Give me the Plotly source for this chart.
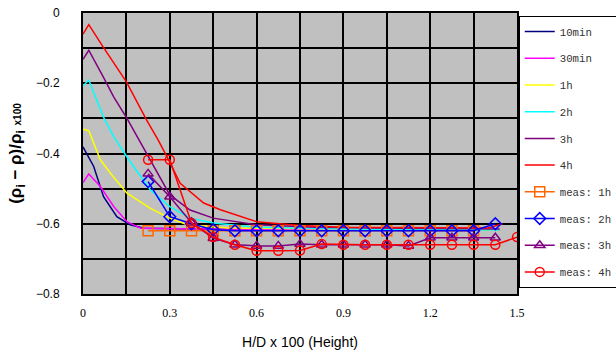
import plotly.graph_objects as go

# ---- model curves ----
x_10min = [0, 0.037, 0.071, 0.117, 0.163, 0.21, 0.4, 0.8, 1.2, 1.44]
y_10min = [-0.381, -0.437, -0.523, -0.58, -0.603, -0.613, -0.615, -0.616, -0.617, -0.618]

x_30min = [0, 0.02, 0.06, 0.106, 0.152, 0.2, 0.4, 0.8, 1.2, 1.44]
y_30min = [-0.483, -0.458, -0.494, -0.551, -0.594, -0.613, -0.615, -0.616, -0.617, -0.618]

x_1h = [0, 0.02, 0.06, 0.095, 0.152, 0.233, 0.30, 0.36, 0.5, 0.8, 1.2, 1.44]
y_1h = [-0.331, -0.335, -0.418, -0.456, -0.513, -0.556, -0.584, -0.603, -0.612, -0.615, -0.617, -0.618]

x_2h = [0, 0.02, 0.07, 0.106, 0.16, 0.233, 0.30, 0.37, 0.45, 0.6, 0.9, 1.2, 1.44]
y_2h = [-0.208, -0.191, -0.295, -0.352, -0.42, -0.504, -0.551, -0.584, -0.598, -0.61, -0.615, -0.617, -0.618]

x_3h = [0, 0.02, 0.07, 0.106, 0.152, 0.221, 0.30, 0.37, 0.45, 0.6, 0.8, 1.0, 1.2, 1.44]
y_3h = [-0.132, -0.106, -0.182, -0.239, -0.30, -0.40, -0.518, -0.561, -0.584, -0.603, -0.61, -0.612, -0.614, -0.615]

x_4h = [0, 0.02, 0.07, 0.15, 0.22, 0.26, 0.29, 0.336, 0.417, 0.475, 0.6, 0.75, 0.9, 1.2, 1.4, 1.45]
y_4h = [-0.06, -0.033, -0.097, -0.196, -0.305, -0.362, -0.409, -0.485, -0.541, -0.56, -0.594, -0.605, -0.61, -0.612, -0.612, -0.6]

# ---- measurements ----
xm_1h = [0.225, 0.3, 0.375, 0.45, 0.525, 0.6, 0.675, 0.75, 0.825, 0.9, 0.975, 1.05, 1.125, 1.2, 1.275, 1.35]
ym_1h = [-0.62, -0.62, -0.62, -0.62, -0.62, -0.62, -0.62, -0.62, -0.62, -0.62, -0.62, -0.62, -0.62, -0.62, -0.62, -0.62]

xm_2h = [0.225, 0.3, 0.375, 0.45, 0.525, 0.6, 0.675, 0.75, 0.825, 0.9, 0.975, 1.05, 1.125, 1.2, 1.275, 1.35, 1.425]
ym_2h = [-0.48, -0.58, -0.60, -0.617, -0.62, -0.62, -0.62, -0.62, -0.62, -0.62, -0.62, -0.62, -0.62, -0.62, -0.62, -0.62, -0.60]

xm_3h = [0.225, 0.3, 0.375, 0.45, 0.525, 0.6, 0.675, 0.75, 0.825, 0.9, 0.975, 1.05, 1.125, 1.2, 1.275, 1.35, 1.425]
ym_3h = [-0.458, -0.523, -0.597, -0.641, -0.66, -0.663, -0.663, -0.658, -0.66, -0.66, -0.66, -0.66, -0.663, -0.64, -0.64, -0.64, -0.64]

xm_4h = [0.225, 0.3, 0.375, 0.45, 0.525, 0.6, 0.675, 0.75, 0.825, 0.9, 0.975, 1.05, 1.125, 1.2, 1.275, 1.35, 1.425, 1.5]
ym_4h = [-0.418, -0.418, -0.598, -0.638, -0.66, -0.677, -0.677, -0.676, -0.658, -0.66, -0.66, -0.66, -0.66, -0.66, -0.66, -0.66, -0.66, -0.638]

fig = go.Figure()

models = [
    ("10min", x_10min, y_10min, "#000080"),
    ("30min", x_30min, y_30min, "#FF00FF"),
    ("1h", x_1h, y_1h, "#FFFF00"),
    ("2h", x_2h, y_2h, "#00FFFF"),
    ("3h", x_3h, y_3h, "#800080"),
    ("4h", x_4h, y_4h, "#FF0000"),
]
for i, (name, xs, ys, c) in enumerate(models):
    fig.add_trace(go.Scatter(x=xs, y=ys, mode="lines", name=name,
                             line=dict(color=c, width=1.5), legendgroup="g%d" % i))

meas = [
    ("meas: 1h", xm_1h, ym_1h, "#FF6600", "square-open", 10),
    ("meas: 2h", xm_2h, ym_2h, "#0000FF", "diamond-open", 9),
    ("meas: 3h", xm_3h, ym_3h, "#800080", "triangle-up-open", 9),
    ("meas: 4h", xm_4h, ym_4h, "#FF0000", "circle-open", 9),
]
for i, (name, xs, ys, c, sym, sz) in enumerate(meas):
    fig.add_trace(go.Scatter(x=xs, y=ys, mode="lines+markers", name=name,
                             line=dict(color=c, width=1.5),
                             marker=dict(symbol=sym, size=sz, color=c, line=dict(width=1.5, color=c)),
                             legendgroup="m%d" % i))

fig.update_layout(
    width=616, height=353,
    margin=dict(l=83, r=99, t=13, b=59, autoexpand=False),
    paper_bgcolor="white",
    plot_bgcolor="#C0C0C0",
    showlegend=True,
    legend=dict(x=1.004, y=0.989, xanchor="left", yanchor="top",
                bgcolor="white", bordercolor="black", borderwidth=1,
                font=dict(family="Liberation Mono", size=10.7, color="#333"),
                tracegroupgap=7.7, itemwidth=30),
    xaxis=dict(range=[0, 1.5], dtick=0.3, tick0=0, showgrid=True, gridcolor="black", gridwidth=1.5,
               minor=dict(dtick=0.15, showgrid=True, gridcolor="black", gridwidth=1.5),
               showline=True, linecolor="black", linewidth=2, mirror=True, zeroline=False,
               tickfont=dict(family="Liberation Serif", size=12, color="black"),
               ticklabelstandoff=7, ticks="", automargin=False,
               title=dict(text="H/D x 100 (Height)", font=dict(family="Liberation Sans", size=14, color="black"),
                          standoff=18)),
    yaxis=dict(range=[-0.8, 0], dtick=0.2, tick0=0, showgrid=True, gridcolor="black", gridwidth=1.5,
               minor=dict(dtick=0.1, showgrid=True, gridcolor="black", gridwidth=1.5),
               showline=True, linecolor="black", linewidth=2, mirror=True, zeroline=False,
               tickfont=dict(family="Liberation Sans", size=12, color="black"),
               ticklabelstandoff=19, ticks="", automargin=False,
               title=dict(text="<b>(ρ<sub>i</sub> − ρ)/ρ<sub>i</sub></b> <span style='font-size:10px'><b>x100</b></span>",
                          font=dict(family="Liberation Sans", size=17, color="black"), standoff=10)),
)

fig.write_html("out.html", config={"displayModeBar": False},
               post_script="document.body.style.margin='0';")
